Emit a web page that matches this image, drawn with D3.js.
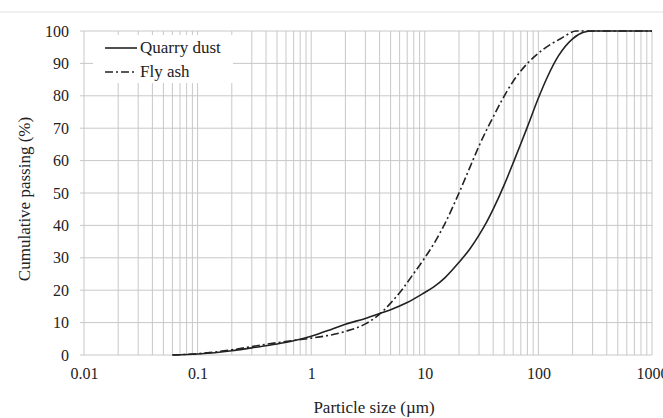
<!DOCTYPE html>
<html>
<head>
<meta charset="utf-8">
<script src="https://cdn.jsdelivr.net/npm/d3@7"></script>
<style>
  body { margin: 0; background: #fff; }
  text { font-family: "Liberation Serif", "Times New Roman", serif; fill: #222; }
</style>
</head>
<body>
<div id="chart"></div>
<script>
// frame
const WIDTH = 663, HEIGHT = 418;
const MARGINS = {left: 84, right: 11, top: 31, bottom: 63};

// particle size (um) and cumulative passing (%)
const quarrySize = [0.06, 0.1, 0.2, 0.3, 0.5, 0.7, 1, 1.5, 2, 3, 4, 5, 7, 10, 12, 15, 20, 25, 30, 35, 40, 50, 60, 70, 80, 100, 120, 150, 200, 250, 300, 1000];
const quarryPass = [0, 0.3, 1.3, 2.2, 3.4, 4.4, 5.8, 7.9, 9.5, 11.3, 12.8, 14, 16.2, 19.3, 21, 23.8, 28.6, 32.8, 37, 41, 45, 52.5, 59.3, 65.2, 70.4, 79.3, 85.8, 92.3, 97.6, 99.6, 100, 100];

const flySize = [0.06, 0.1, 0.2, 0.3, 0.5, 0.7, 1, 1.5, 2, 3, 4, 5, 6.25, 8, 10, 12, 15, 20, 25, 30, 35, 40, 48, 60, 80, 110, 160, 215, 1000];
const flyPass = [0, 0.4, 1.6, 2.6, 3.8, 4.5, 5.2, 6.2, 7.3, 9.6, 12.6, 16, 20, 25.2, 30, 34.3, 40.5, 50, 58, 64.5, 69.5, 73.5, 78.8, 84.5, 90, 94.3, 97.8, 100, 100];

const xTicks = [0.01, 0.1, 1, 10, 100, 1000];
const yTicks = [0, 10, 20, 30, 40, 50, 60, 70, 80, 90, 100];

const svg = d3.select("#chart")
  .append("svg")
  .attr("width", WIDTH)
  .attr("height", HEIGHT);

// faint line along the top
svg.append("line")
  .attr("x1", 0).attr("x2", WIDTH)
  .attr("y1", 12).attr("y2", 12)
  .attr("stroke", "#efefef")
  .attr("stroke-width", 2);

const xScale = d3.scaleLog()
  .domain([0.01, 1000])
  .range([MARGINS.left, WIDTH - MARGINS.right]);

const yScale = d3.scaleLinear()
  .domain([0, 100])
  .range([HEIGHT - MARGINS.bottom, MARGINS.top]);

// minor log gridlines (1..9 in every decade)
const gridX = [];
for (let d = 0.01; d < 1000; d *= 10) {
  for (let k = 1; k < 10; k++) gridX.push(+(d * k).toPrecision(3));
}
gridX.push(1000);

svg.append("g")
  .selectAll("line")
  .data(gridX)
  .enter()
  .append("line")
    .attr("x1", d => xScale(d))
    .attr("x2", d => xScale(d))
    .attr("y1", yScale(0))
    .attr("y2", yScale(100))
    .attr("stroke", "#c8c8c8")
    .attr("stroke-width", 1);

svg.append("g")
  .selectAll("line")
  .data(yTicks)
  .enter()
  .append("line")
    .attr("x1", xScale(0.01) - 4)
    .attr("x2", xScale(1000))
    .attr("y1", d => yScale(d))
    .attr("y2", d => yScale(d))
    .attr("stroke", "#c8c8c8")
    .attr("stroke-width", 1);

// axes: only the labels, the grid does the rest
const yAxis = d3.axisLeft(yScale).tickValues(yTicks).tickSize(0).tickPadding(15);
svg.append("g")
  .attr("transform", "translate(" + MARGINS.left + ",0)")
  .call(yAxis)
  .call(g => g.select(".domain").remove())
  .selectAll("text")
    .style("font-size", "16px")
    .style("font-family", "'Liberation Serif', serif")
    .attr("fill", "#222");

const xAxis = d3.axisBottom(xScale).tickValues(xTicks).tickSize(0).tickPadding(13)
  .tickFormat(d => String(d));
svg.append("g")
  .attr("transform", "translate(0," + yScale(0) + ")")
  .call(xAxis)
  .call(g => g.select(".domain").remove())
  .selectAll("text")
    .style("font-size", "16px")
    .style("font-family", "'Liberation Serif', serif")
    .attr("fill", "#222");

// curves
const line = d3.line()
  .x(d => xScale(d[0]))
  .y(d => yScale(d[1]))
  .curve(d3.curveMonotoneX);

svg.append("path")
  .datum(d3.zip(quarrySize, quarryPass))
  .attr("d", line)
  .attr("fill", "none")
  .attr("stroke", "#222")
  .attr("stroke-width", 1.6);

svg.append("path")
  .datum(d3.zip(flySize, flyPass))
  .attr("d", line)
  .attr("fill", "none")
  .attr("stroke", "#222")
  .attr("stroke-width", 1.6)
  .attr("stroke-dasharray", "8,3,2,3");

// legend
const legend = svg.append("g");
legend.append("rect")
  .attr("x", 93).attr("y", 35)
  .attr("width", 140).attr("height", 48)
  .attr("fill", "#fff");

const legendItems = [
  {name: "Quarry dust", dash: null, y: 48},
  {name: "Fly ash", dash: "8,3,2,3", y: 72}
];
legendItems.forEach(function(item) {
  legend.append("line")
    .attr("x1", 105).attr("x2", 137)
    .attr("y1", item.y).attr("y2", item.y)
    .attr("stroke", "#222")
    .attr("stroke-width", 1.6)
    .attr("stroke-dasharray", item.dash);
  legend.append("text")
    .attr("x", 140)
    .attr("y", item.y + 5)
    .style("font-size", "17px")
    .text(item.name);
});

// axis titles
svg.append("text")
  .attr("x", 374)
  .attr("y", 413)
  .attr("text-anchor", "middle")
  .style("font-size", "17px")
  .text("Particle size (µm)");

svg.append("text")
  .attr("transform", "translate(30,199) rotate(-90)")
  .attr("text-anchor", "middle")
  .style("font-size", "17px")
  .text("Cumulative passing (%)");
</script>
</body>
</html>
